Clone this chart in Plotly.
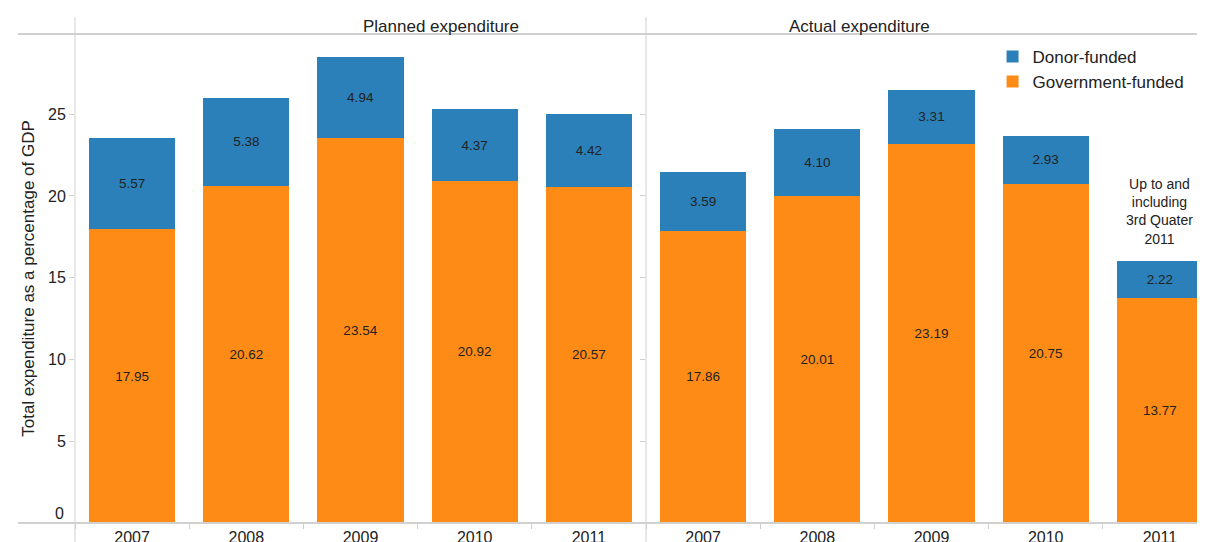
import plotly.graph_objects as go
from plotly.subplots import make_subplots

years = ['2007', '2008', '2009', '2010', '2011']
planned_gov = [17.95, 20.62, 23.54, 20.92, 20.57]
planned_donor = [5.57, 5.38, 4.94, 4.37, 4.42]
actual_gov = [17.86, 20.01, 23.19, 20.75, 13.77]
actual_donor = [3.59, 4.10, 3.31, 2.93, 2.22]
panel_titles = ['Planned expenditure', 'Actual expenditure']
y_ticks = [0, 5, 10, 15, 20, 25]

BLUE = '#2B80B9'
ORANGE = '#FF8B17'
GRID = '#D0D0D0'

PLOT_W = 1130
PANEL_W = 571          # each panel in the original is 571px; the right one runs off the page
split = PANEL_W / PLOT_W

fig = make_subplots(rows=1, cols=2, shared_yaxes=True, horizontal_spacing=0)

panels = [(planned_gov, planned_donor), (actual_gov, actual_donor)]
for col, (gov, donor) in enumerate(panels, start=1):
    fig.add_trace(go.Bar(
        x=years, y=gov, name='Government-funded',
        marker=dict(color=ORANGE, line=dict(width=0)),
        texttemplate='%{y:.2f}', textposition='inside', insidetextanchor='middle',
        textfont=dict(size=13.5, color='#222222'),
        showlegend=(col == 1), hoverinfo='y'
    ), row=1, col=col)
    fig.add_trace(go.Bar(
        x=years, y=donor, name='Donor-funded',
        marker=dict(color=BLUE, line=dict(width=0)),
        texttemplate='%{y:.2f}', textposition='inside', insidetextanchor='middle',
        textfont=dict(size=13.5, color='#222222'),
        showlegend=(col == 1), hoverinfo='y'
    ), row=1, col=col)

# page body has an 8px margin, so the figure is sized to fill the rest of the window
fig.update_layout(
    barmode='stack',
    bargap=0.245,
    width=1197, height=534,
    margin=dict(l=67, r=0, t=26, b=19),
    paper_bgcolor='white', plot_bgcolor='white',
    font=dict(family='Liberation Sans, Arial, sans-serif', size=16, color='#222222'),
    uniformtext=dict(minsize=13, mode='show'),
    legend=dict(x=0.812, y=0.990, xanchor='left', yanchor='top',
                traceorder='reversed',
                font=dict(size=17), bgcolor='rgba(0,0,0,0)',
                itemwidth=30, tracegroupgap=0),
    showlegend=True,
)

fig.update_yaxes(range=[0, 29.9], tickvals=y_ticks,
                 ticktext=['' if v == 0 else str(v) for v in y_ticks],
                 showgrid=False, zeroline=False, ticks='outside', ticklen=5,
                 tickcolor=GRID, tickfont=dict(size=16), showline=False)
fig.update_yaxes(title=dict(text='Total expenditure as a percentage of GDP',
                            font=dict(size=17), standoff=9), row=1, col=1)
fig.update_xaxes(type='category', showgrid=False, ticks='outside', tickson='boundaries',
                 ticklen=5, tickcolor=GRID, tickfont=dict(size=16), showline=False,
                 ticklabelstandoff=3, automargin=False)
fig.update_xaxes(domain=[0, split], range=[-0.5, 4.5], row=1, col=1)
# right panel is cut at the window edge: show only the part of it that fits
cut = (2 * PANEL_W - PLOT_W) / (PANEL_W / 5)
fig.update_xaxes(domain=[split, 1], range=[-0.5, 4.5 - cut], row=1, col=2)

# zero label sits a little above the baseline
fig.add_annotation(text='0', xref='paper', yref='y', x=0, y=0, xanchor='right',
                   xshift=-9, yshift=10, showarrow=False, font=dict(size=16))

# frame lines and panel headers
fig.add_shape(type='line', xref='paper', yref='paper', x0=-57/PLOT_W, x1=1, y0=1, y1=1,
              line=dict(color=GRID, width=2))
fig.add_shape(type='line', xref='paper', yref='paper', x0=-57/PLOT_W, x1=1, y0=0, y1=0,
              line=dict(color=GRID, width=2))
for xp in [0, split]:
    fig.add_shape(type='line', xref='paper', yref='paper', x0=xp, x1=xp,
                  y0=-19/489, y1=1 + 17/489, line=dict(color=GRID, width=1))
for i, t in enumerate(panel_titles):
    fig.add_annotation(text=t, xref='paper', yref='paper', x=(i + 0.5) * PANEL_W / PLOT_W, y=1,
                       yanchor='bottom', yshift=-4, showarrow=False, font=dict(size=17))

fig.add_annotation(text='Up to and<br>including<br>3rd Quater<br>2011', xref='x2', yref='y',
                   x=4, y=actual_gov[4] + actual_donor[4], yanchor='bottom', yshift=12,
                   showarrow=False, font=dict(size=14, color='#222222'))

fig.write_html('out.html')
